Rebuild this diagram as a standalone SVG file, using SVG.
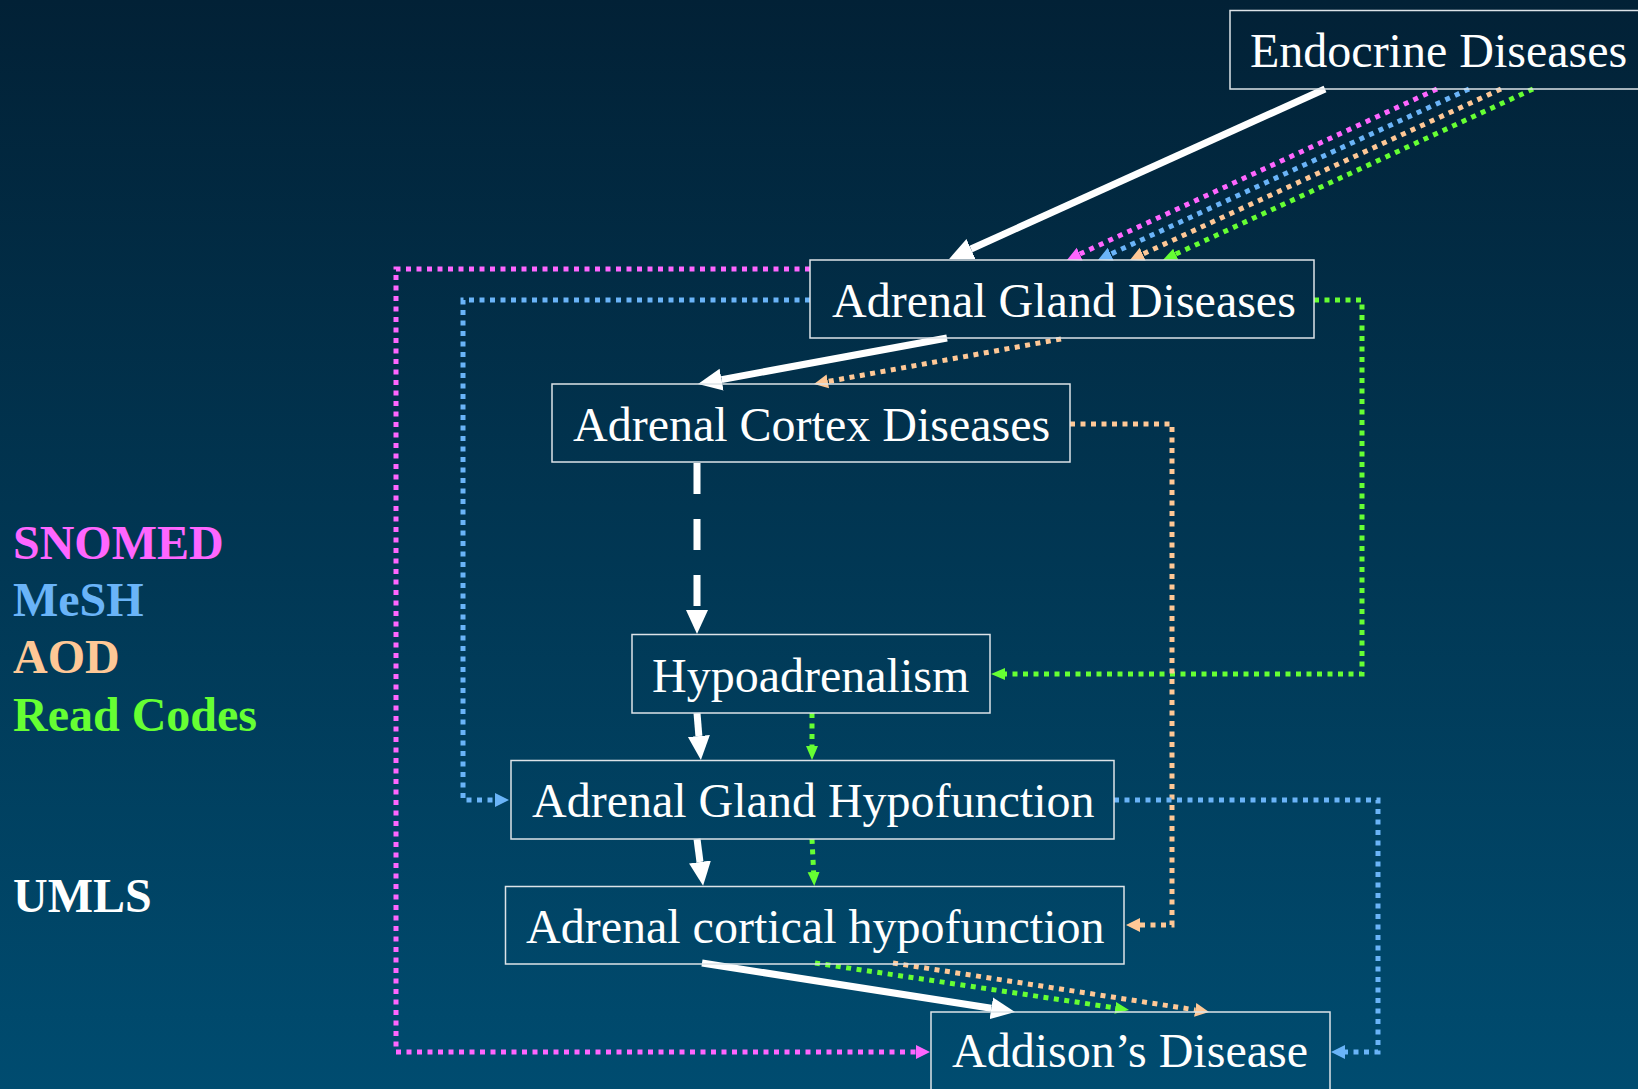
<svg xmlns="http://www.w3.org/2000/svg" width="1638" height="1089" viewBox="0 0 1638 1089">
  <defs>
    <linearGradient id="bg" x1="0" y1="0" x2="0" y2="1">
      <stop offset="0" stop-color="#022136"/>
      <stop offset="1" stop-color="#004c70"/>
    </linearGradient>
    <marker id="aw" markerUnits="userSpaceOnUse" markerWidth="26" markerHeight="24" viewBox="0 -12 26 24" refX="0" refY="0" orient="auto">
      <path d="M0,-11 L24,0 L0,11 z" fill="#ffffff"/>
    </marker>
    <marker id="ap" markerUnits="userSpaceOnUse" markerWidth="16" markerHeight="16" viewBox="0 -8 16 16" refX="0" refY="0" orient="auto">
      <path d="M0,-7 L14,0 L0,7 z" fill="#ff66ff"/>
    </marker>
    <marker id="ab" markerUnits="userSpaceOnUse" markerWidth="16" markerHeight="16" viewBox="0 -8 16 16" refX="0" refY="0" orient="auto">
      <path d="M0,-7 L14,0 L0,7 z" fill="#6ab4f8"/>
    </marker>
    <marker id="ao" markerUnits="userSpaceOnUse" markerWidth="16" markerHeight="16" viewBox="0 -8 16 16" refX="0" refY="0" orient="auto">
      <path d="M0,-7 L14,0 L0,7 z" fill="#ffc896"/>
    </marker>
    <marker id="ag" markerUnits="userSpaceOnUse" markerWidth="16" markerHeight="16" viewBox="0 -8 16 16" refX="0" refY="0" orient="auto">
      <path d="M0,-6 L14,0 L0,6 z" fill="#66ff33"/>
    </marker>
  </defs>
  <style>
    .box { fill: none; stroke: #dde3e8; stroke-width: 1.5; }
    .lbl { font-family: "Liberation Serif", "Times New Roman", serif; font-size: 48px; fill: #ffffff; }
    .leg { font-family: "Liberation Serif", "Times New Roman", serif; font-size: 48px; font-weight: bold; }
    .w { fill: none; stroke: #ffffff; stroke-width: 7; }
    .d { fill: none; stroke-width: 5; stroke-dasharray: 5 5.5; }
    .p { stroke: #ff66ff; }
    .b { stroke: #6ab4f8; }
    .o { stroke: #ffc896; }
    .g { stroke: #66ff33; }
  </style>
  <rect x="0" y="0" width="1638" height="1089" fill="url(#bg)"/>

  <g id="legend">
    <text class="leg" x="13" y="559" fill="#ff66ff">SNOMED</text>
    <text class="leg" x="13" y="616" fill="#6ab4f8">MeSH</text>
    <text class="leg" x="13" y="673" fill="#ffc896">AOD</text>
    <text class="leg" x="13" y="731" fill="#66ff33">Read Codes</text>
    <text class="leg" x="13" y="912" fill="#ffffff">UMLS</text>
  </g>

  <g id="connectors">
    <!-- white UMLS -->
    <line class="w" x1="1325" y1="89" x2="971" y2="249" marker-end="url(#aw)"/>
    <line class="w" x1="947" y1="338" x2="721.6" y2="379.6" marker-end="url(#aw)"/>
    <line class="w" x1="697" y1="463" x2="697" y2="610" stroke-width="8" stroke-dasharray="31 25" marker-end="url(#aw)"/>
    <line class="w" x1="697" y1="713" x2="698.9" y2="736" marker-end="url(#aw)"/>
    <line class="w" x1="697" y1="839" x2="700" y2="862" marker-end="url(#aw)"/>
    <line class="w" x1="702" y1="963" x2="991.3" y2="1008.3" stroke-width="8" marker-end="url(#aw)"/>

    <!-- Endocrine -> Adrenal Gland Diseases -->
    <line class="d p" x1="1437" y1="89" x2="1079.7" y2="254.1" marker-end="url(#ap)"/>
    <line class="d b" x1="1469" y1="89" x2="1110.7" y2="254.1" marker-end="url(#ab)"/>
    <line class="d o" x1="1501" y1="89" x2="1142.7" y2="254.1" marker-end="url(#ao)"/>
    <line class="d g" x1="1533" y1="89" x2="1175.7" y2="254.1" marker-end="url(#ag)"/>

    <!-- AOD: AGD -> ACD -->
    <line class="d o" x1="1061" y1="339" x2="827.8" y2="381.5" marker-end="url(#ao)"/>
    <!-- SNOMED: AGD -> Addison's -->
    <path class="d p" d="M810,269 H396 V1052 H916" marker-end="url(#ap)"/>
    <!-- MeSH: AGD -> AGH -->
    <path class="d b" d="M810,300 H463 V800 H495" marker-end="url(#ab)"/>
    <!-- Read: AGD -> Hypoadrenalism -->
    <path class="d g" d="M1314,300 H1362 V674 H1005" marker-end="url(#ag)"/>
    <!-- AOD: ACD -> ACH -->
    <path class="d o" d="M1070,424 H1172 V925 H1140" marker-end="url(#ao)"/>
    <!-- MeSH: AGH -> Addison's -->
    <path class="d b" d="M1114,800 H1378 V1052 H1345" marker-end="url(#ab)"/>
    <!-- Read: Hypo -> AGH -> ACH -> Addison's -->
    <line class="d g" x1="812" y1="713" x2="812" y2="746" stroke-dasharray="7 4" marker-end="url(#ag)"/>
    <line class="d g" x1="812" y1="839" x2="813.6" y2="872" stroke-dasharray="7 4" marker-end="url(#ag)"/>
    <line class="d g" x1="815" y1="963" x2="1115.2" y2="1007.9" marker-end="url(#ag)"/>
    <!-- AOD: ACH -> Addison's -->
    <line class="d o" x1="893" y1="963" x2="1195.2" y2="1009.9" marker-end="url(#ao)"/>
  </g>

  <g id="endocrine">
    <rect class="box" x="1230" y="10.5" width="420" height="78.5"/>
    <text class="lbl" x="1250" y="67">Endocrine Diseases</text>
  </g>
  <g id="adrenal-gland-diseases">
    <rect class="box" x="810" y="260" width="504" height="78"/>
    <text class="lbl" x="832" y="317">Adrenal Gland Diseases</text>
  </g>
  <g id="adrenal-cortex-diseases">
    <rect class="box" x="552" y="384" width="518" height="78"/>
    <text class="lbl" x="573" y="441">Adrenal Cortex Diseases</text>
  </g>
  <g id="hypoadrenalism">
    <rect class="box" x="632" y="634.5" width="358" height="78.5"/>
    <text class="lbl" x="652" y="692">Hypoadrenalism</text>
  </g>
  <g id="adrenal-gland-hypofunction">
    <rect class="box" x="511" y="760.5" width="603" height="78.5"/>
    <text class="lbl" x="532" y="817">Adrenal Gland Hypofunction</text>
  </g>
  <g id="adrenal-cortical-hypofunction">
    <rect class="box" x="505.5" y="886.5" width="618.5" height="77.5"/>
    <text class="lbl" x="526" y="943">Adrenal cortical hypofunction</text>
  </g>
  <g id="addisons-disease">
    <rect class="box" x="931" y="1012" width="399" height="90"/>
    <text class="lbl" x="952" y="1067">Addison’s Disease</text>
  </g>
</svg>
